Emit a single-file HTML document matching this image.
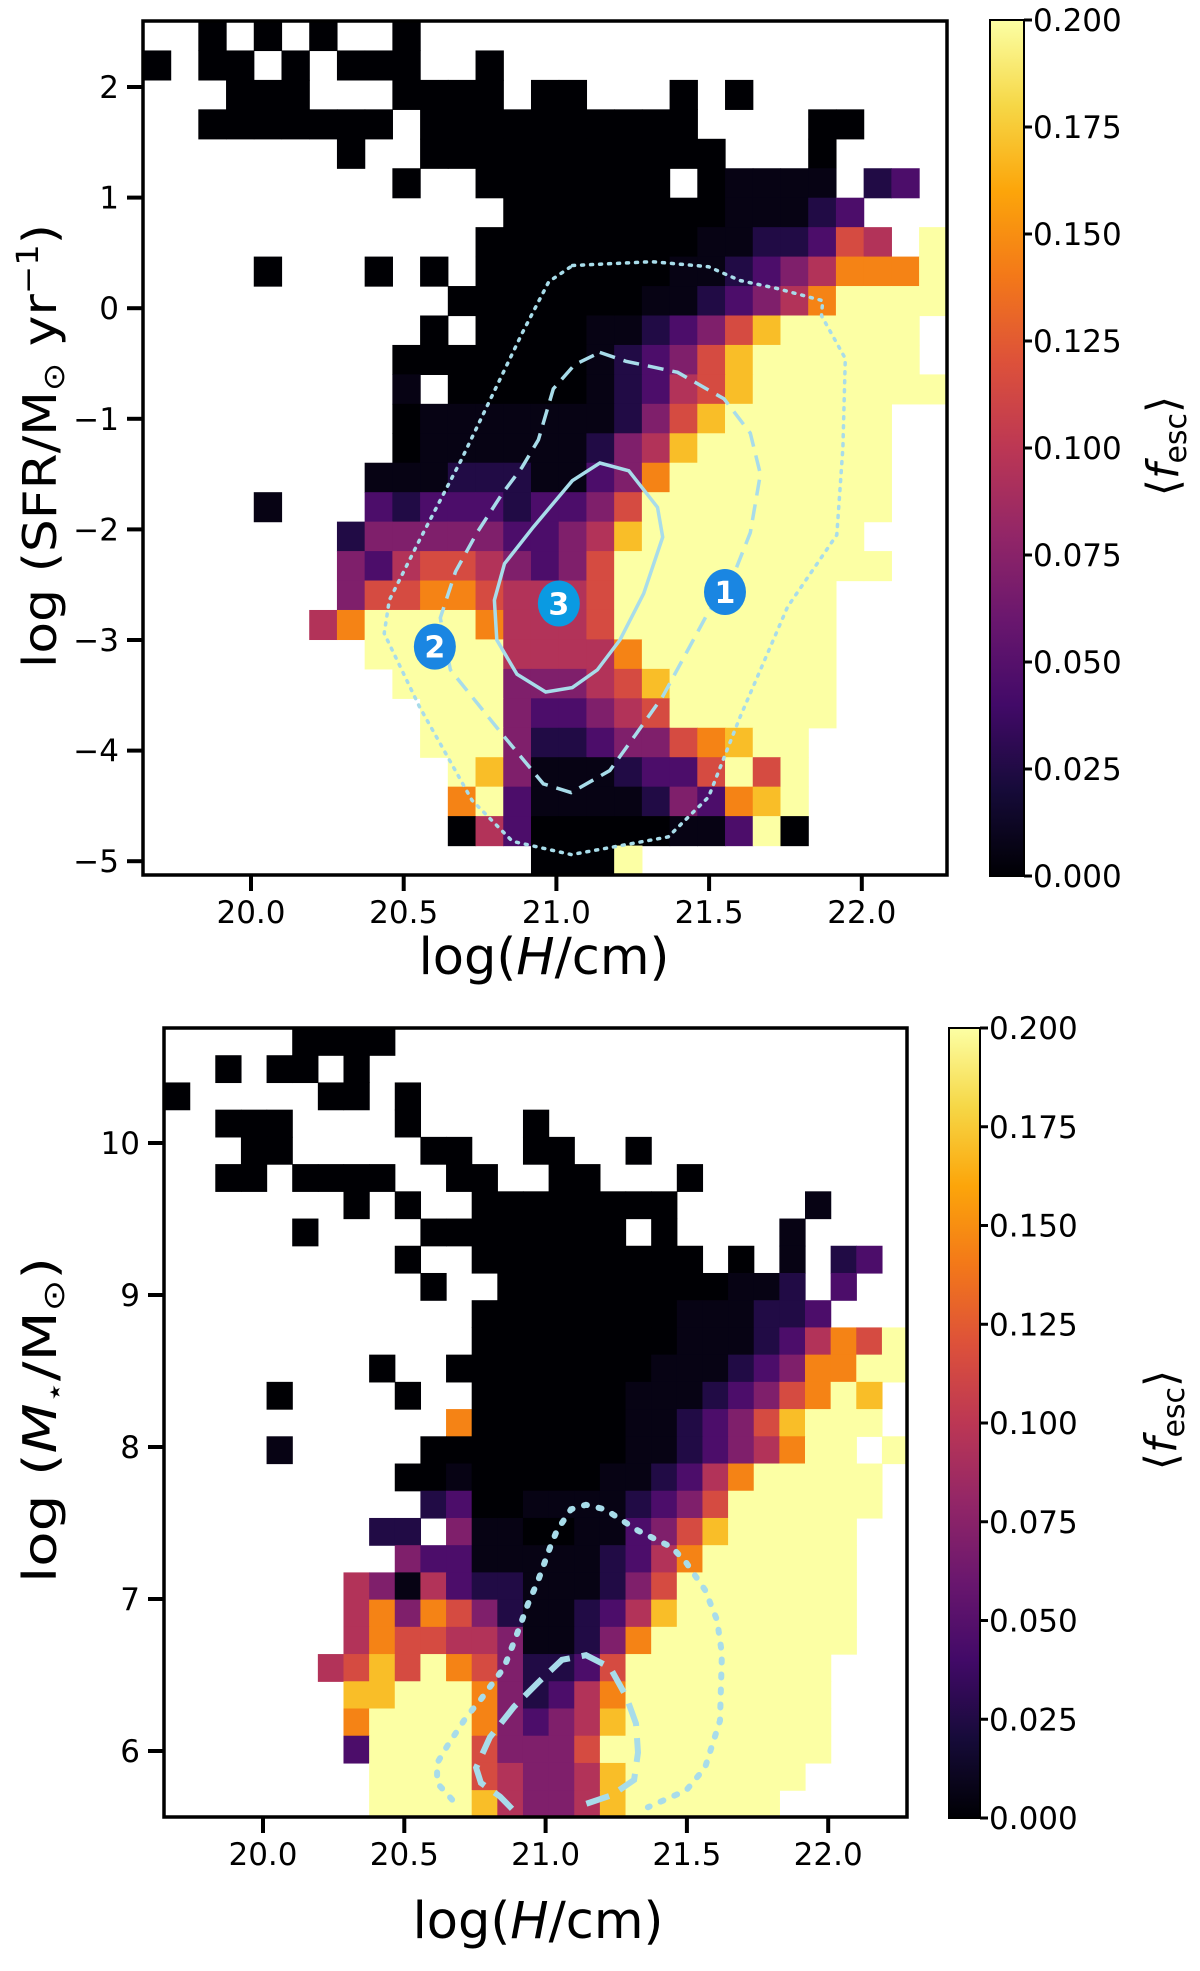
<!DOCTYPE html>
<html><head><meta charset="utf-8"><style>
html,body{margin:0;padding:0;background:#fff;}
svg{display:block;font-family:"DejaVu Sans","Liberation Sans",sans-serif;}
</style></head><body>
<svg id="fig" width="1200" height="1971" viewBox="0 0 1200 1971" xmlns="http://www.w3.org/2000/svg">
<defs>
<linearGradient id="inferno" x1="0" y1="1" x2="0" y2="0">
<stop offset="0" stop-color="#000004"/><stop offset="0.1" stop-color="#160b39"/><stop offset="0.2" stop-color="#420a68"/><stop offset="0.3" stop-color="#6a176e"/><stop offset="0.4" stop-color="#932667"/><stop offset="0.5" stop-color="#bc3754"/><stop offset="0.6" stop-color="#dd513a"/><stop offset="0.7" stop-color="#f37819"/><stop offset="0.8" stop-color="#fca50a"/><stop offset="0.9" stop-color="#f6d746"/><stop offset="1" stop-color="#fcffa4"/>
</linearGradient>
</defs>
<g id="top-panel"></g>
<g id="bot-panel"></g>
</svg>
<script>
// ---- data ----
const levelValues = [0, 0.006, 0.025, 0.045, 0.07, 0.095, 0.115, 0.145, 0.17, 0.2];
const topRows = [
"..0.0.0..0...................",
"0.00.0.000..0................",
"...000...0000.00...0.0.......",
"..0000000.0000000000....00...",
".......0..00000000000...0....",
".........0..0000000.01111.23.",
".............000000001112 3...",
"............0000000011223 65.9",
"....0...0.0.00000001123457779",
"...........000000011234579999",
"..........0.0000112346899999.",
".........0000000123468999999.",
".........1.000001235689999999",
".........01111111246899999 9..",
".........0111111245899999 99..",
"........11122211347999999 99..",
"....1...3233323346999999999..",
".......2444443345899999999...",
".......43566543469999999999..",
".......466776555699999999....",
"......5799997555699999999....",
"........999995555799999 99....",
".........9999444568999999....",
"..........999433456999999....",
"..........99942234467899.....",
"...........9841112336969.....",
"...........7931111243789.....",
"...........0530000011390.....",
"..............0009.........."
].map(r => r.replace(/ /g, ""));
const botRows = [
".....0000....................",
"..0.00.0.....................",
"0.....00.0...................",
"..000....0....0..............",
"...00.....00..00..0..........",
"..00.0000..00..00...0........",
".......0.0..00000000.....1...",
".....0....00000000.0....1....",
".........0..000000000.0.1.23.",
"..........0..000000000112.3..",
"............00000000111223...",
"............00000000111235769",
"........0..000000001112347799",
"....0....0..0000001112346798.",
"...........70000001123468999.",
"....1.....0000000011234579 9.9",
".........00100000112357999 99.",
"..........230011112346999999.",
"........22.41100113468999 99..",
".........433111112357999999..",
".......54153221112469999999..",
".......57476421123589999999..",
".......5766554112479999999 9..",
"......568697642236999999 99...",
".......8899974235799999999...",
".......7999974345899999999...",
".......3999964446999999999...",
"........99996544589999999....",
"........9999854458999999....."
].map(r => r.replace(/ /g, ""));
const topXTicks = [20.0, 20.5, 21.0, 21.5, 22.0];
const topXLabels = ["20.0", "20.5", "21.0", "21.5", "22.0"];
const topYTicks = [2, 1, 0, -1, -2, -3, -4, -5];
const topYLabels = ["2", "1", "0", "\u22121", "\u22122", "\u22123", "\u22124", "\u22125"];
const botXTicks = [20.0, 20.5, 21.0, 21.5, 22.0];
const botXLabels = ["20.0", "20.5", "21.0", "21.5", "22.0"];
const botYTicks = [10, 9, 8, 7, 6];
const botYLabels = ["10", "9", "8", "7", "6"];
const cbTicks = [0, 0.025, 0.05, 0.075, 0.1, 0.125, 0.15, 0.175, 0.2];
const cbLabels = ["0.000", "0.025", "0.050", "0.075", "0.100", "0.125", "0.150", "0.175", "0.200"];
// contours (data units: x = log H, y = log SFR / log M*)
const topDotX = [21.053,21.313,21.498,21.601,21.720,21.872,21.868,21.946,21.938,21.918,21.757,21.601,21.498,21.366,21.049,20.856,20.724,20.551,20.436,20.453,20.551,20.687,20.889,20.975];
const topDotY = [0.386,0.420,0.375,0.25,0.18,0.068,-0.068,-0.455,-1.26,-2.05,-2.70,-3.70,-4.42,-4.78,-4.94,-4.82,-4.45,-3.60,-2.94,-2.64,-2.10,-1.38,-0.22,0.24];
const topDashX = [21.142,21.228,21.397,21.549,21.635,21.668,21.635,21.582,21.495,21.413,21.348,21.261,21.175,21.048,20.957,20.822,20.653,20.620,20.670,20.740,20.822,20.887,20.941,20.990,21.060];
const topDashY = [-0.40,-0.48,-0.58,-0.82,-1.13,-1.50,-2.03,-2.40,-2.76,-3.18,-3.51,-3.85,-4.18,-4.38,-4.30,-3.85,-3.27,-2.80,-2.38,-2.03,-1.68,-1.44,-1.19,-0.73,-0.51];
const topSolidX = [21.142,21.237,21.331,21.348,21.286,21.208,21.134,21.052,20.965,20.871,20.805,20.797,20.830,20.924,21.052];
const topSolidY = [-1.40,-1.47,-1.80,-2.07,-2.58,-3.00,-3.27,-3.43,-3.47,-3.31,-3.00,-2.64,-2.31,-1.98,-1.56];
const markerX = [21.552, 20.602, 21.008];
const markerY = [-2.566, -3.06, -2.67];
const markerLabels = ["1", "2", "3"];
const botDotX = [20.669,20.616,20.616,20.651,20.718,20.771,20.853,20.895,20.938,20.973,21.016,21.040,21.090,21.143,21.210,21.327,21.447,21.497,21.564,21.607,21.624,21.617,21.564,21.497,21.362];
const botDotY = [5.68,5.79,5.92,6.03,6.22,6.34,6.55,6.75,6.97,7.12,7.34,7.45,7.59,7.62,7.59,7.45,7.34,7.24,7.06,6.86,6.64,6.20,5.89,5.74,5.63];
const botDashX = [20.881,20.839,20.771,20.754,20.803,20.888,20.973,21.058,21.143,21.228,21.285,21.320,21.327,21.313,21.235,21.108];
const botDashY = [5.62,5.70,5.79,5.89,6.09,6.29,6.45,6.60,6.63,6.55,6.36,6.18,5.99,5.81,5.71,5.63];

// ---- helpers ----
const NS = "http://www.w3.org/2000/svg";
const stops = [[0,0,0,4],[0.1,22,11,57],[0.2,66,10,104],[0.3,106,23,110],[0.4,147,38,103],[0.5,188,55,84],[0.6,221,81,58],[0.7,243,120,25],[0.8,252,165,10],[0.9,246,215,70],[1,252,255,164]];
function inferno(t){t=Math.max(0,Math.min(1,t));for(let i=1;i<stops.length;i++){if(t<=stops[i][0]){const a=stops[i-1],b=stops[i],f=(t-a[0])/(b[0]-a[0]);return "rgb("+[1,2,3].map(k=>Math.round(a[k]+f*(b[k]-a[k]))).join(",")+")";}}return "rgb(252,255,164)";}
function mk(parent, tag, attrs, text){const e=document.createElementNS(NS,tag);for(const k in attrs)e.setAttribute(k,attrs[k]);if(text!==undefined)e.textContent=text;parent.appendChild(e);return e;}

function buildPanel(g, cfg){
  const {xs, ys, box, x0, dx, y0, dy, rows} = cfg;
  const cells = mk(g,"g",{});
  
  
  rows.forEach((row, r) => {
    for (let c = 0; c < row.length; c++) {
      const ch = row[c];
      if (ch === ".") continue;
      const v = levelValues[+ch];
      const xa = xs(x0 + c*dx), xb = xs(x0 + (c+1)*dx);
      const ya = ys(y0 - r*dy), yb = ys(y0 - (r+1)*dy);
      const rect = mk(cells,"rect",{x:xa.toFixed(2),y:ya.toFixed(2),width:(xb-xa+0.6).toFixed(2),height:(yb-ya+0.6).toFixed(2),fill:inferno(v/0.2)});
      
      
    }
  });
  const fr = mk(g,"rect",{x:box[0],y:box[1],width:box[2]-box[0],height:box[3]-box[1],fill:"none",stroke:"#000","stroke-width":3.5});
  
  
  cfg.xTicks.forEach((t,i)=>{
    const x = xs(t);
    const tk = mk(g,"line",{x1:x,x2:x,y1:box[3],y2:box[3]+16,stroke:"#000","stroke-width":4});
    
    
    const lb = mk(g,"text",{x:x,y:box[3]+48,"font-size":31,"text-anchor":"middle"},cfg.xLabels[i]);
    
    
  });
  cfg.yTicks.forEach((t,i)=>{
    const y = ys(t);
    const tk = mk(g,"line",{x1:box[0]-16,x2:box[0],y1:y,y2:y,stroke:"#000","stroke-width":4});
    
    
    const lb = mk(g,"text",{x:box[0]-24,y:y+11,"font-size":31,"text-anchor":"end"},cfg.yLabels[i]);
    
    
  });
  const cb = cfg.cb;
  const cbr = mk(g,"rect",{x:cb[0],y:cb[1],width:cb[2]-cb[0],height:cb[3]-cb[1],fill:"url(#inferno)",stroke:"#000","stroke-width":2});
  
  
  cbTicks.forEach((t,i)=>{
    const y = cb[3] - (t/0.2)*(cb[3]-cb[1]);
    const tk = mk(g,"line",{x1:cb[2],x2:cb[2]+8,y1:y,y2:y,stroke:"#000","stroke-width":3});
    
    
    const lb = mk(g,"text",{x:cb[2]+9,y:y+11,"font-size":31},cbLabels[i]);
    
    
  });
}
function pathFrom(xs, ys, X, Y, closed){
  let d = X.map((v,i)=>(i?"L":"M")+xs(v).toFixed(1)+","+ys(Y[i]).toFixed(1)).join(" ");
  return closed ? d+" Z" : d;
}

// ---- top panel ----
const tg = document.getElementById("top-panel");
const txs = v => 251 + (v-20)*305.4;
const tys = v => 87 + (2-v)*110.6;
buildPanel(tg, {prefix:"top", xs:txs, ys:tys, box:[143,21,947,875], x0:19.646, dx:0.09077, y0:2.5967, dy:0.26626, rows:topRows,
  xTicks:topXTicks, xLabels:topXLabels, yTicks:topYTicks, yLabels:topYLabels, cb:[990,20,1024,876]});
let p;
p = mk(tg,"path",{d:pathFrom(txs,tys,topDotX,topDotY,true),fill:"none",stroke:"#a8dcea","stroke-width":3.5,"stroke-dasharray":"2 7","stroke-linecap":"round"});


p = mk(tg,"path",{d:pathFrom(txs,tys,topDashX,topDashY,true),fill:"none",stroke:"#a8dcea","stroke-width":3.5,"stroke-dasharray":"16 9"});


p = mk(tg,"path",{d:pathFrom(txs,tys,topSolidX,topSolidY,true),fill:"none",stroke:"#a8dcea","stroke-width":3.5});


markerX.forEach((mx,i)=>{
  const cx = txs(mx), cy = tys(markerY[i]);
  const c = mk(tg,"ellipse",{cx:cx,cy:cy,rx:21,ry:23,fill:i==2?"#0a9ae2":"#1a86e2"});
  
  
  const t = mk(tg,"text",{x:cx,y:cy+11,"font-size":30,"font-weight":"bold",fill:"#fff","text-anchor":"middle"},markerLabels[i]);
  
  
});

// ---- bottom panel ----
const bg = document.getElementById("bot-panel");
const bxs = v => 263 + (v-20)*282.6;
const bys = v => 1143 + (10-v)*152;
buildPanel(bg, {prefix:"bottom", xs:bxs, ys:bys, box:[164,1028,907,1817], x0:19.6497, dx:0.09073, y0:10.7566, dy:0.17908, rows:botRows,
  xTicks:botXTicks, xLabels:botXLabels, yTicks:botYTicks, yLabels:botYLabels, cb:[949,1028,980,1818]});
p = mk(bg,"path",{d:pathFrom(bxs,bys,botDotX,botDotY,false),fill:"none",stroke:"#a8dcea","stroke-width":6,"stroke-dasharray":"3 12","stroke-linecap":"round"});


p = mk(bg,"path",{d:pathFrom(bxs,bys,botDashX,botDashY,false),fill:"none",stroke:"#a8dcea","stroke-width":6,"stroke-dasharray":"24 12"});


</script>
<svg style="position:absolute;left:0;top:0" width="1200" height="1971" xmlns="http://www.w3.org/2000/svg" font-family="DejaVu Sans, Liberation Sans, sans-serif">
<text transform="translate(56,446) rotate(-90)" font-size="46" text-anchor="middle" textLength="444" lengthAdjust="spacingAndGlyphs">log (SFR/M<tspan font-size="30" dy="8">⊙</tspan><tspan dy="-8"> yr</tspan><tspan font-size="30" dy="-18">−1</tspan><tspan dy="18">)</tspan></text>
<text x="544" y="974" font-size="51" text-anchor="middle">log(<tspan font-style="italic">H</tspan>/cm)</text>
<text transform="translate(1178,446) rotate(-90)" font-size="44" text-anchor="middle">⟨<tspan font-style="italic">f</tspan><tspan font-size="30" dy="8">esc</tspan><tspan dy="-8">⟩</tspan></text>
<text transform="translate(56,1420) rotate(-90)" font-size="46" text-anchor="middle" textLength="326" lengthAdjust="spacingAndGlyphs">log (<tspan font-style="italic">M</tspan><tspan font-size="28" dy="8">⋆</tspan><tspan dy="-8">/M</tspan><tspan font-size="30" dy="8">⊙</tspan><tspan dy="-8">)</tspan></text>
<text x="538" y="1938" font-size="51" text-anchor="middle">log(<tspan font-style="italic">H</tspan>/cm)</text>
<text transform="translate(1176,1420) rotate(-90)" font-size="44" text-anchor="middle">⟨<tspan font-style="italic">f</tspan><tspan font-size="30" dy="8">esc</tspan><tspan dy="-8">⟩</tspan></text>
</svg>
</body></html>
